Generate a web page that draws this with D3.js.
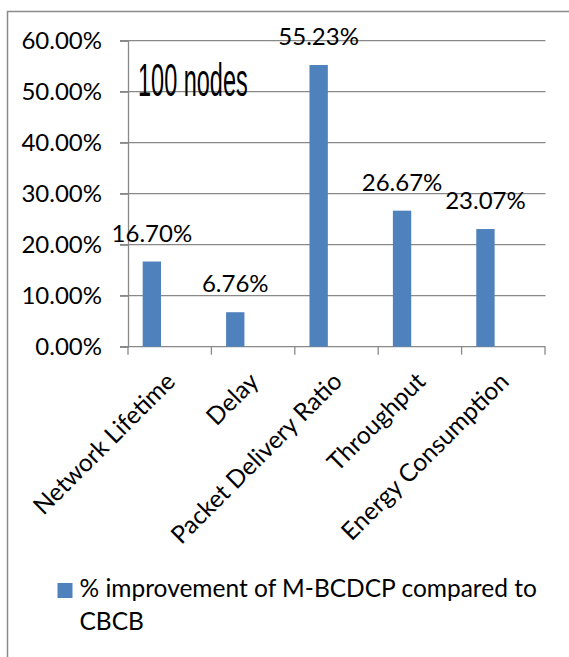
<!DOCTYPE html>
<html>
<head>
<meta charset="utf-8">
<script src="https://cdn.jsdelivr.net/npm/d3@7"></script>
<style>
  html, body { margin: 0; padding: 0; background: #fff; }
  svg { display: block; }
  text { font-family: Lato, "Open Sans", sans-serif; fill: #000; }
</style>
</head>
<body>
<svg id="chart" width="569" height="657"></svg>
<script>
// Improvement of M-BCDCP over CBCB, 100-node network
const categories = ["Network Lifetime", "Delay", "Packet Delivery Ratio", "Throughput", "Energy Consumption"];
const improvement = [0.1670, 0.0676, 0.5523, 0.2667, 0.2307];
const yTicks = [0, 0.1, 0.2, 0.3, 0.4, 0.5, 0.6];
const seriesName = ["% improvement of M-BCDCP compared to", "CBCB"];
const annotation = "100 nodes";

const svg = d3.select("#chart");
const barColor = "#4f81bd";
const gridColor = "#898989";
const numberSize = 24;
const textSize = 24.5;

// chart frame
svg.append("rect")
  .attr("x", 7.5).attr("y", 11.5)
  .attr("width", 600).attr("height", 700)
  .attr("fill", "none").attr("stroke", "#8a8a8a").attr("stroke-width", 1.5);

const x = d3.scaleBand().domain(categories).range([128, 545]).padding(0);
const y = d3.scaleLinear().domain([0, 0.6]).range([346.7, 40.7]);

// horizontal gridlines
svg.append("g").selectAll("line").data(yTicks).join("line")
  .attr("x1", 120).attr("x2", 545.5)
  .attr("y1", d => y(d)).attr("y2", d => y(d))
  .attr("stroke", gridColor).attr("stroke-width", 1.3);

// value axis
const yAxis = svg.append("g")
  .attr("transform", "translate(128,0)")
  .call(d3.axisLeft(y).tickValues(yTicks).tickSize(8).tickPadding(18).tickFormat(d3.format(".2%")));
yAxis.select(".domain").attr("stroke", gridColor).attr("stroke-width", 1.3);
yAxis.selectAll(".tick line").attr("stroke", gridColor).attr("stroke-width", 1.3);
yAxis.selectAll(".tick text").attr("font-size", numberSize).attr("font-family", "Lato, sans-serif").attr("fill", "#000");

// category axis with ticks on band boundaries
const bounds = categories.map(c => x(c)).concat([x.range()[1]]);
const xAxis = svg.append("g");
xAxis.selectAll("line.tick").data(bounds).join("line")
  .attr("class", "tick")
  .attr("x1", d => d).attr("x2", d => d)
  .attr("y1", y(0)).attr("y2", y(0) + 8)
  .attr("stroke", gridColor).attr("stroke-width", 1.3);

xAxis.selectAll("text").data(categories).join("text")
  .attr("transform", d => `translate(${x(d) + x.bandwidth() / 2 + 7},383) rotate(-45)`)
  .attr("text-anchor", "end")
  .attr("font-size", textSize)
  .text(d => d);

// bars
const bw = x.bandwidth();
svg.append("g").selectAll("rect").data(improvement).join("rect")
  .attr("x", (d, i) => x(categories[i]) + bw * 0.176)
  .attr("width", bw * 0.22)
  .attr("y", d => y(d))
  .attr("height", d => y(0) - y(d))
  .attr("fill", barColor);

// value labels
svg.append("g").selectAll("text").data(improvement).join("text")
  .attr("x", (d, i) => x(categories[i]) + bw * 0.176 + bw * 0.11)
  .attr("y", d => y(d) - 20)
  .attr("text-anchor", "middle")
  .attr("font-size", numberSize)
  .text(d => d3.format(".2%")(d));

// in-plot annotation, condensed face
svg.append("text")
  .attr("transform", "translate(138,96) scale(0.5,1)")
  .style("font-family", "'Liberation Sans', Arial, sans-serif")
  .attr("font-size", 47)
  .text(annotation);

// legend
const legend = svg.append("g");
legend.append("rect")
  .attr("x", 57.5).attr("y", 583).attr("width", 15).attr("height", 15)
  .attr("fill", barColor);
legend.selectAll("text").data(seriesName).join("text")
  .attr("x", 79.5)
  .attr("y", (d, i) => 597 + i * 33)
  .attr("font-size", textSize)
  .text(d => d);
</script>
</body>
</html>
